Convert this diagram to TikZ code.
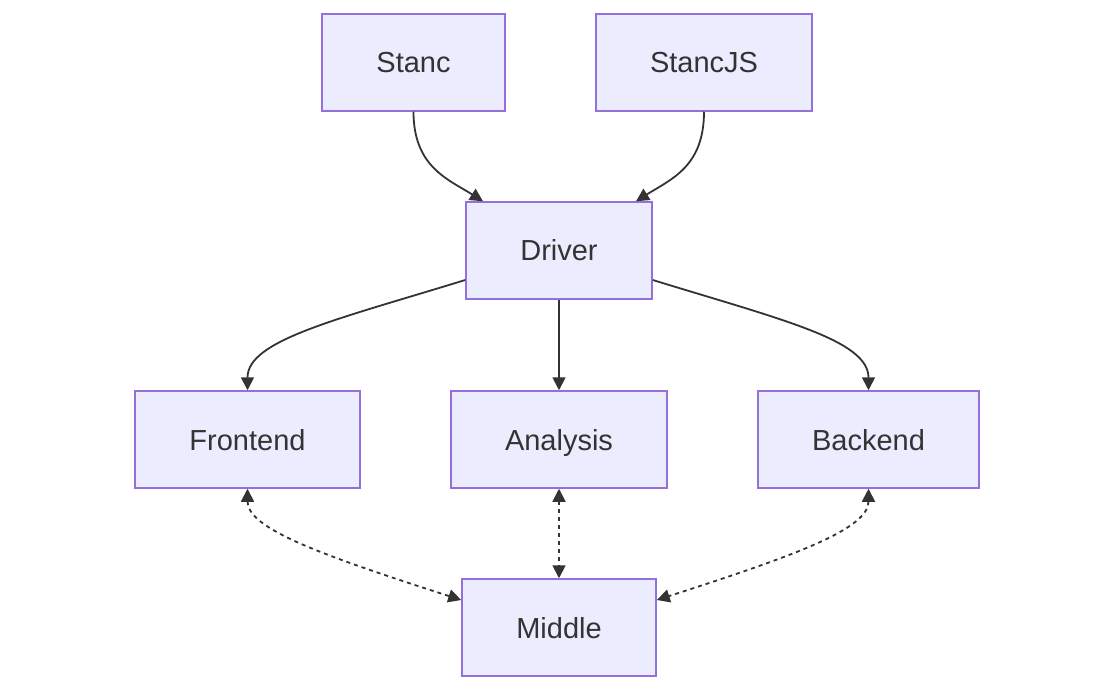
\documentclass[tikz,border=0pt]{standalone}
\usepackage{fontspec}
\setmainfont{Liberation Sans}
\usetikzlibrary{arrows.meta}
\definecolor{boxfill}{HTML}{ECECFF}
\definecolor{boxline}{HTML}{9370DB}
\definecolor{ink}{HTML}{333333}
\begin{document}
\begin{tikzpicture}[x=1pt,y=-1pt,
  box/.style={draw=boxline,fill=boxfill,line width=1.5pt,minimum height=97pt,inner sep=0pt,
    text height=24pt,text depth=3pt,
    text=ink,font=\fontsize{29}{35}\selectfont},
  edge/.style={draw=ink,line width=1.8pt,-{Triangle[length=13pt,width=13pt]}},
  dedge/.style={draw=ink,line width=1.8pt,dash pattern=on 4pt off 4pt,
    {Triangle[length=13pt,width=13pt]}-{Triangle[length=13pt,width=13pt]}}]
\useasboundingbox (0,0) rectangle (1116,692);
\node[box,minimum width=183pt] (stanc) at (413.5,62.5) {Stanc};
\node[box,minimum width=216pt] (stancjs) at (704,62.5) {StancJS};
\node[box,minimum width=186pt] (driver) at (559,250.5) {Driver};
\node[box,minimum width=225pt] (frontend) at (247.5,439.5) {Frontend};
\node[box,minimum width=216pt] (analysis) at (559,439.5) {Analysis};
\node[box,minimum width=221pt] (backend) at (868.5,439.5) {Backend};
\node[box,minimum width=194pt] (middle) at (559,627.5) {Middle};

\draw[edge] (stanc.south) .. controls +(0,55) and +(-35,-22) .. ([xshift=-76pt]driver.north);
\draw[edge] (stancjs.south) .. controls +(0,55) and +(35,-22) .. ([xshift=77pt]driver.north);
\draw[edge] ([yshift=-29.5pt]driver.west) .. controls +(-130,40) and +(0,-50) .. (frontend.north);
\draw[edge] (driver.south) -- (analysis.north);
\draw[edge] ([yshift=-29.5pt]driver.east) .. controls +(130,40) and +(0,-50) .. (backend.north);

\draw[dedge] (frontend.south) .. controls +(0,40) and +(-140,-45) .. ([yshift=27.5pt]middle.west);
\draw[dedge] (analysis.south) -- (middle.north);
\draw[dedge] (backend.south) .. controls +(0,40) and +(140,-45) .. ([yshift=27.5pt]middle.east);
\end{tikzpicture}
\end{document}
